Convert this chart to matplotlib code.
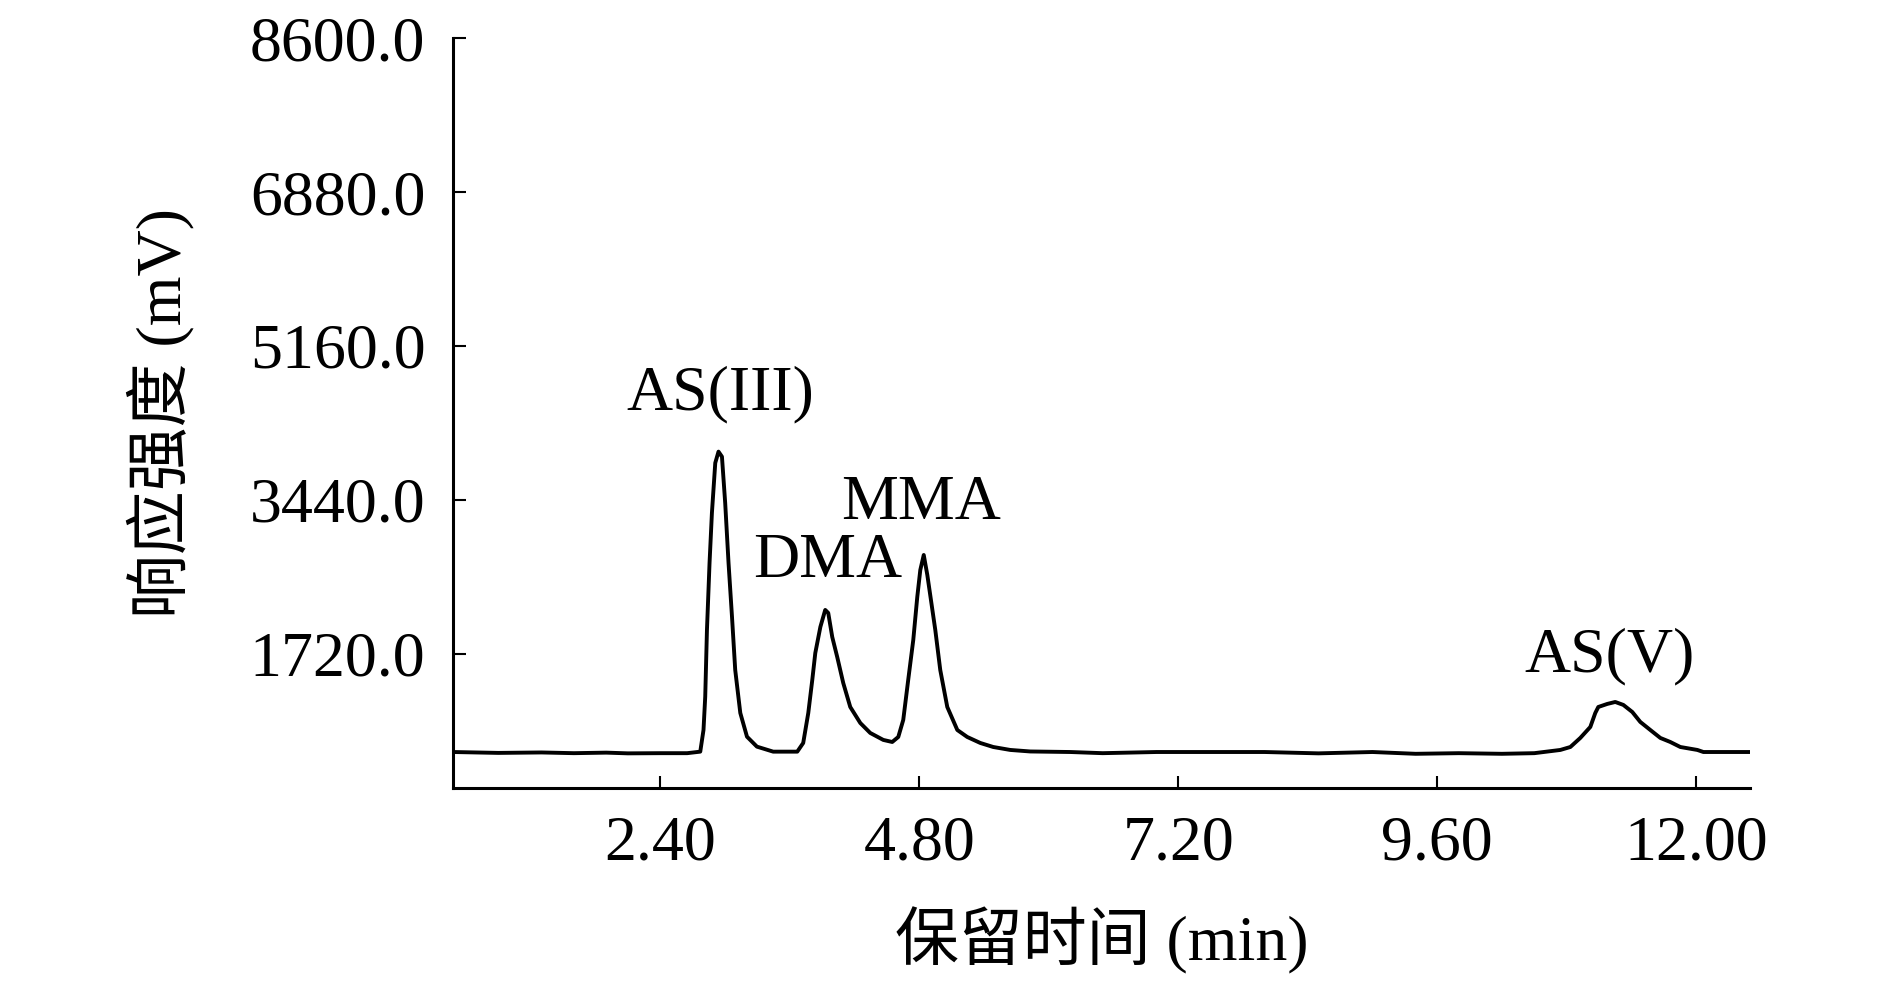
import numpy as np
import matplotlib
matplotlib.use("Agg")
import matplotlib.pyplot as plt
from matplotlib.ticker import FormatStrFormatter

plt.rcParams['font.family'] = ['Liberation Serif', 'Noto Sans CJK SC', 'DejaVu Sans']

# chromatogram trace: retention time (min) / response (mV)
time_min = [0.48, 0.9, 1.3, 1.6, 1.9, 2.1, 2.4, 2.65, 2.771, 2.801, 2.817, 2.833,
            2.857, 2.879, 2.910, 2.940, 2.972, 3.002, 3.033, 3.065, 3.095, 3.142,
            3.204, 3.296, 3.447, 3.670, 3.725, 3.772, 3.809, 3.837, 3.884, 3.929,
            3.957, 3.994, 4.040, 4.096, 4.161, 4.254, 4.346, 4.467, 4.550, 4.606,
            4.652, 4.698, 4.745, 4.782, 4.810, 4.842, 4.875, 4.902, 4.949, 4.995,
            5.060, 5.153, 5.245, 5.366, 5.486, 5.644, 5.829, 6.2, 6.5, 7.0, 7.5,
            8.0, 8.5, 9.0, 9.4, 9.8, 10.2, 10.5, 10.741, 10.834, 10.926, 11.019,
            11.065, 11.093, 11.176, 11.250, 11.325, 11.408, 11.482, 11.575, 11.668,
            11.760, 11.853, 12.011, 12.067, 12.5]
response_mv = [625, 615, 620, 612, 618, 610, 612, 612, 629, 871, 1243, 1988,
               2737, 3295, 3854, 3980, 3924, 3407, 2737, 2137, 1541, 1061,
               796, 685, 629, 629, 726, 1061, 1430, 1731, 2022, 2212,
               2178, 1910, 1687, 1396, 1128, 949, 838, 760, 737, 793,
               983, 1430, 1877, 2357, 2658, 2826, 2603, 2379, 1988, 1541,
               1128, 871, 793, 726, 681, 648, 631, 625, 612, 625, 625,
               625, 610, 625, 605, 612, 605, 612, 648, 681, 782, 905,
               1061, 1128, 1162, 1184, 1151, 1072, 961, 871, 782,
               737, 681, 648, 625, 625]

peak_names = ["AS(III)", "DMA", "MMA", "AS(V)"]
x_ticks = [2.40, 4.80, 7.20, 9.60, 12.00]
y_ticks = [1720.0, 3440.0, 5160.0, 6880.0, 8600.0]

fig = plt.figure(figsize=(18.9, 9.85), dpi=100)
ax = fig.add_axes([0.2397, 0.2, 0.926 - 0.2397, 0.7614])

ax.plot(time_min, response_mv, color='black', lw=2.8)

# peak labels
label_pos = [(2.956, 4624), (3.948, 2748), (4.819, 3396), (11.195, 1687)]
for name, (tx, ty) in zip(peak_names, label_pos):
    ax.text(tx, ty, name, fontsize=46, ha='center', va='center')

ax.set_xlim(0.48, 12.5)
ax.set_ylim(223, 8600)
ax.set_xticks(x_ticks)
ax.set_yticks(y_ticks)
ax.xaxis.set_major_formatter(FormatStrFormatter('%.2f'))
ax.yaxis.set_major_formatter(FormatStrFormatter('%.1f'))
ax.tick_params(direction='in', length=9, width=1.5, labelsize=46, pad=20)

for side in ['top', 'right']:
    ax.spines[side].set_visible(False)
for side in ['left', 'bottom']:
    ax.spines[side].set_linewidth(2.2)

ax.set_xlabel("保留时间 (min)", fontsize=46, labelpad=24)
ax.set_ylabel("响应强度 (mV)", fontsize=46, labelpad=40)

fig.savefig("out.png", dpi=100)
